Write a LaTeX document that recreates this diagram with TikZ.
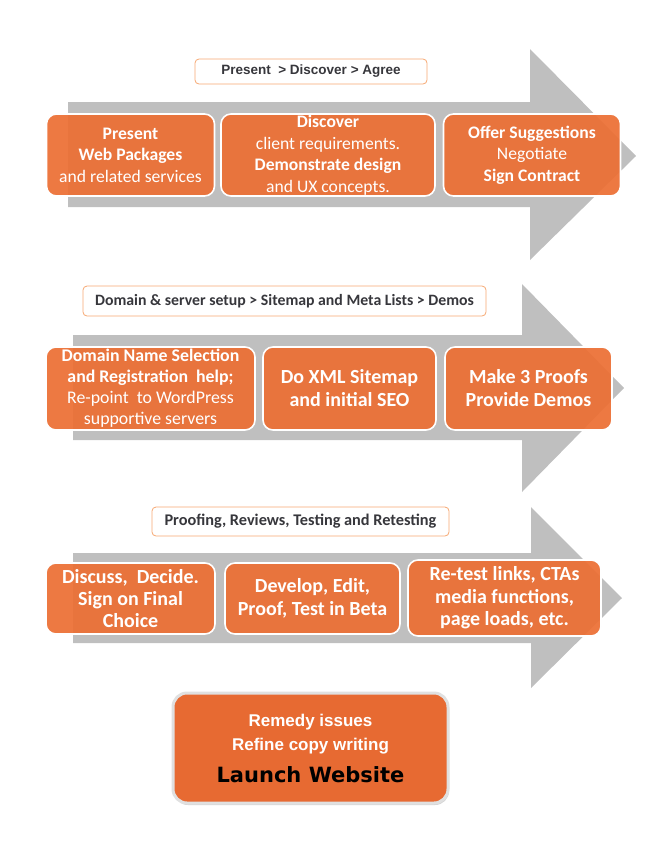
\documentclass[tikz,border=0pt]{standalone}
\usepackage{fontspec}
\newfontfamily\carlito{Carlito}
\newfontfamily\arialfont{Liberation Sans}
\newfontfamily\verdfont{DejaVu Sans}
\usetikzlibrary{
  positioning,
  shadows
}
\definecolor{flowgray}{RGB}{191,191,191}
\definecolor{steporange}{RGB}{236,111,52}
\definecolor{launchorange}{RGB}{231,106,50}
\definecolor{tagedge}{RGB}{247,168,115}
\definecolor{tagtext}{RGB}{55,55,60}

\begin{document}
\begin{tikzpicture}[
  x=1pt, y=-1pt,
  stepbox/.style={draw=white, line width=1.6pt, fill=steporange, fill opacity=0.93,
    text opacity=1, rounded corners=10pt, align=center, text=white, inner sep=0pt,
    font=\carlito\fontsize{17.6}{21.5}\selectfont},
  bigstep/.style={stepbox, font=\carlito\bfseries\fontsize{20}{23}\selectfont},
  tagbox/.style={draw=tagedge, line width=0.8pt, fill=white, rounded corners=4pt,
    text=tagtext, inner sep=0pt},
  flowarrow/.style={fill=flowgray}
]
\useasboundingbox (0,0) rectangle (660,855);

% Big grey arrows
\fill[flowarrow] (68,102) -- (530,102) -- (530,49) -- (636,156)
  -- (530,260) -- (530,207) -- (68,207) -- cycle;
\fill[flowarrow] (73,335) -- (522,335) -- (522,284) -- (624,388)
  -- (522,492) -- (522,440) -- (73,440) -- cycle;
\fill[flowarrow] (73,553) -- (531,553) -- (531,507) -- (622,598)
  -- (531,688) -- (531,643) -- (73,643) -- cycle;

% Stage 1
\node[tagbox, minimum width=232pt, minimum height=25pt,
  font=\arialfont\bfseries\fontsize{13.5}{15}\selectfont]
  (agreetag) at (311,71.5) {Present \ > Discover > Agree};
\node[stepbox, minimum width=168pt, minimum height=82pt]
  (present) at (130.5,155)
  {{\bfseries Present}\\{\bfseries Web Packages}\\and related services};
\node[stepbox, minimum width=214pt, minimum height=82pt]
  (discover) at (328,155)
  {{\bfseries Discover}\\client requirements.\\{\bfseries Demonstrate design}\\and UX concepts.};
\node[stepbox, minimum width=177pt, minimum height=82pt]
  (offer) at (532,155)
  {{\bfseries Offer Suggestions}\\Negotiate\\{\bfseries Sign Contract}};

% Stage 2
\node[tagbox, minimum width=403pt, minimum height=30pt,
  font=\carlito\bfseries\fontsize{15.8}{17}\selectfont]
  (setuptag) at (284.5,301) {Domain \& server setup > Sitemap and Meta Lists > Demos};
\node[stepbox, minimum width=209pt, minimum height=83pt,
  font=\carlito\fontsize{17.8}{21}\selectfont]
  (domain) at (150.5,388.5)
  {{\bfseries Domain Name Selection}\\{\bfseries and Registration \ help;}\\Re-point \ to WordPress\\supportive servers};
\node[bigstep, minimum width=173pt, minimum height=83pt]
  (sitemap) at (349.5,388.5) {Do XML Sitemap\\and initial SEO};
\node[bigstep, minimum width=167pt, minimum height=83pt]
  (proofs) at (528.5,388.5) {Make 3 Proofs\\Provide Demos};

% Stage 3
\node[tagbox, minimum width=297pt, minimum height=29pt,
  font=\carlito\bfseries\fontsize{16.3}{17}\selectfont]
  (testtag) at (300.5,521.5) {Proofing, Reviews, Testing and Retesting};
\node[bigstep, minimum width=169pt, minimum height=71pt,
  font=\carlito\bfseries\fontsize{20}{22}\selectfont]
  (decide) at (130.5,598.5) {Discuss, \ Decide.\\Sign on Final\\Choice};
\node[bigstep, minimum width=175pt, minimum height=71pt]
  (develop) at (312.5,598.5) {Develop, Edit,\\Proof, Test in Beta};
\node[bigstep, minimum width=193pt, minimum height=76pt,
  font=\carlito\bfseries\fontsize{20}{22.5}\selectfont]
  (retest) at (504.5,598) {Re-test links, CTAs\\media functions,\\page loads, etc.};

% Launch
\node[draw=black!12, line width=3pt, fill=launchorange, rounded corners=14pt,
  minimum width=275pt, minimum height=110pt, inner sep=0pt, align=center,
  drop shadow={shadow xshift=1pt, shadow yshift=-2pt, fill=black!35},
  font=\arialfont\bfseries\fontsize{17}{24}\selectfont, text=white]
  (launch) at (310.5,748)
  {Remedy issues\\Refine copy writing\\[8pt]
   {\verdfont\fontsize{21}{24}\selectfont\color{black}Launch Website}};

\end{tikzpicture}
\end{document}
